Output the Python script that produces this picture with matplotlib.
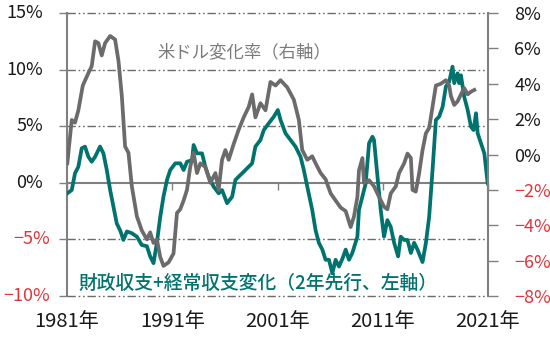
import matplotlib
matplotlib.use("Agg")
import matplotlib.pyplot as plt
from matplotlib.transforms import blended_transform_factory

plt.rcParams['font.family'] = ['Noto Sans CJK JP', 'DejaVu Sans']

# US dollar change rate (right axis, %)
usd_years = [1981.03, 1981.45, 1981.76, 1982.08, 1982.5, 1983.03, 1983.35, 1983.67, 1983.98,
             1984.3, 1984.62, 1985.1, 1985.57, 1985.89, 1986.21, 1986.52, 1986.84, 1987.16,
             1987.64, 1988.11, 1988.59, 1988.9, 1989.22, 1989.54, 1989.86, 1990.17, 1990.65,
             1991.12, 1991.45, 1991.76, 1992.08, 1992.4, 1992.71, 1993.03, 1993.35, 1993.67,
             1994.14, 1994.62, 1995.1, 1995.41, 1995.73, 1996.05, 1996.36, 1996.84, 1997.31,
             1997.79, 1998.27, 1998.59, 1998.9, 1999.38, 1999.86, 2000.33, 2000.81, 2001.29,
             2001.92, 2002.55, 2003.03, 2003.35, 2003.83, 2004.3, 2004.62, 2005.1, 2005.57,
             2006.05, 2006.52, 2007.0, 2007.48, 2007.95, 2008.27, 2008.59, 2008.74, 2009.07,
             2009.22, 2009.7, 2010.17, 2010.65, 2011.12, 2011.44, 2011.76, 2012.24, 2012.55,
             2013.03, 2013.35, 2013.67, 2013.83, 2014.14, 2014.46, 2014.78, 2015.1, 2015.41,
             2015.73, 2016.05, 2016.52, 2017.0, 2017.31, 2017.48, 2017.79, 2018.11, 2018.43,
             2018.74, 2019.07, 2019.38, 2019.7]
usd_change = [-0.5, 1.95, 1.8, 2.5, 3.9, 4.6, 5.0, 6.4, 6.3,
              5.6, 6.3, 6.7, 6.5, 5.3, 3.3, 0.45, 0.1, -1.8,
              -3.5, -4.3, -4.8, -4.4, -5.0, -4.8, -5.8, -6.3, -6.1,
              -5.6, -3.3, -3.1, -2.6, -2.0, -0.7, 0.1, -1.05, -0.5,
              -0.7, -1.6, -1.05, -2.0, -0.3, 0.25, -0.3, 0.6, 1.4,
              2.1, 2.7, 3.4, 2.1, 2.9, 2.5, 4.1, 3.9, 4.2,
              3.8, 3.1, 1.95, 0.25, -0.3, -0.1, -0.5, -1.05, -1.4,
              -2.2, -2.6, -3.0, -3.2, -4.1, -3.5, -2.4, -0.9, -0.2,
              -1.6, -1.45, -1.8, -2.4, -2.95, -3.1, -2.2, -1.8, -1.05,
              -0.5, 0.05, -0.2, -2.0, -2.1, -1.05, 0.25, 1.2, 1.5,
              2.7, 3.9, 4.0, 4.2, 3.9, 3.3, 2.8, 3.0, 3.4,
              3.75, 3.4, 3.55, 3.65]

# Fiscal balance + current account change (2 years ahead, left axis, %)
bal_years = [1981.03, 1981.45, 1981.76, 1982.08, 1982.4, 1982.71, 1983.03, 1983.35, 1983.67,
             1984.14, 1984.46, 1984.78, 1985.1, 1985.41, 1985.73, 1986.05, 1986.36, 1986.69,
             1987.16, 1987.64, 1988.11, 1988.59, 1988.9, 1989.22, 1989.54, 1989.86, 1990.17,
             1990.5, 1990.81, 1991.29, 1991.76, 1992.08, 1992.4, 1992.88, 1993.03, 1993.35,
             1993.83, 1994.14, 1994.46, 1994.93, 1995.41, 1995.73, 1996.21, 1996.69, 1997.0,
             1997.31, 1997.64, 1997.95, 1998.27, 1998.59, 1998.9, 1999.38, 1999.7, 2000.17,
             2000.65, 2001.03, 2001.29, 2001.76, 2002.24, 2002.71, 2003.19, 2003.5, 2003.83,
             2004.3, 2004.62, 2004.93, 2005.26, 2005.57, 2005.89, 2006.21, 2006.52, 2006.84,
             2007.17, 2007.48, 2007.79, 2008.11, 2008.59, 2008.74, 2009.07, 2009.38, 2009.7,
             2010.02, 2010.17, 2010.5, 2010.81, 2011.12, 2011.44, 2011.76, 2012.08, 2012.46,
             2012.71, 2013.03, 2013.35, 2013.67, 2013.98, 2014.3, 2014.78, 2015.1, 2015.41,
             2015.73, 2016.05, 2016.36, 2016.69, 2017.0, 2017.31, 2017.63, 2017.79, 2018.11,
             2018.26, 2018.43, 2018.74, 2019.07, 2019.38, 2019.63, 2019.86, 2020.02, 2020.33,
             2020.65, 2020.97, 2021.1]
bal_change = [-0.93, -0.64, 0.84, 1.42, 3.05, 3.19, 2.3, 1.86, 2.3,
              3.2, 2.6, 1.13, -0.64, -2.1, -3.6, -4.2, -5.05, -4.3,
              -4.45, -4.76, -5.5, -5.6, -6.5, -7.1, -5.3, -3.0, -1.2,
              0.25, 1.13, 1.72, 1.72, 1.13, 1.86, 2.0, 3.34, 2.6,
              2.6, 1.42, 0.54, -0.34, -0.93, -0.64, -1.8, -1.23, 0.25,
              0.54, 0.84, 1.13, 1.42, 1.72, 3.2, 3.78, 4.66, 5.26,
              5.84, 6.43, 5.55, 4.37, 3.78, 3.2, 2.3, 1.13, -0.34,
              -2.4, -4.2, -5.3, -5.9, -6.8, -6.8, -8.0, -6.8, -7.4,
              -6.7, -5.9, -6.8, -6.2, -4.76, -2.4, -1.2, -0.05, 3.5,
              4.07, 3.78, 0.54, -2.4, -4.76, -3.3, -3.9, -5.3, -6.5,
              -4.76, -5.05, -5.05, -6.2, -5.3, -5.9, -7.0, -5.3, -3.0,
              1.13, 5.55, 5.84, 6.72, 8.5, 8.93, 10.26, 8.8, 9.67,
              8.8, 9.5, 7.6, 6.43, 4.96, 4.66, 6.14, 4.37, 3.5,
              2.6, -0.05, -0.35]

left_ticks = [15, 10, 5, 0, -5, -10]
right_ticks = [8, 6, 4, 2, 0, -2, -4, -6, -8]
x_ticks = [1981, 1991, 2001, 2011, 2021]
x_labels = ["1981年", "1991年", "2001年", "2011年", "2021年"]

GRAY = "#6b6b6b"
TEAL = "#00736e"
RED = "#e0353a"
AXGRAY = "#808080"

fig = plt.figure(figsize=(5.5, 3.39), dpi=100)
ax = fig.add_axes([67/550, 1 - 296/339, (488 - 67)/550, (296 - 13)/339])
ax.set_xlim(1981, 2021)
ax.set_ylim(-10, 15)

# gridlines
for v in left_ticks:
    if v == 0:
        continue
    ax.axhline(v, color="#6a6a6a", lw=1.0, ls=(0, (6, 2, 1.2, 2, 1.2, 2)), zorder=1, clip_on=False)

for s in ["top", "right"]:
    ax.spines[s].set_visible(False)
ax.spines["left"].set_color(AXGRAY)
ax.spines["left"].set_linewidth(1.5)
ax.spines["bottom"].set_position(("data", 0))
ax.spines["bottom"].set_color(AXGRAY)
ax.spines["bottom"].set_linewidth(1.5)

ax.set_xticks(x_ticks)
ax.tick_params(axis="x", direction="out", length=5, width=1, color=AXGRAY, labelbottom=False)
ax.set_yticks(left_ticks)
ax.tick_params(axis="y", direction="out", length=6, width=1, color=AXGRAY, labelleft=False)

# left tick labels (positive labels carry a right padding like the source format)
trans_l = blended_transform_factory(fig.transFigure, ax.transData)
for v in left_ticks:
    xr = (43 if v >= 0 else 50) / 550
    ax.text(xr, v, f"{v}%".replace("-", "−"), transform=trans_l, ha="right", va="center",
            fontsize=13, color=(RED if v < 0 else "#1a1a1a"))

# x labels at the bottom
sec = ax.secondary_xaxis(0)
sec.set_xticks(x_ticks)
sec.set_xticklabels(x_labels, fontsize=14.5, color="#1a1a1a")
sec.tick_params(length=0, pad=11)
sec.spines["bottom"].set_visible(False)

ax.plot(bal_years, bal_change, color=TEAL, lw=2.7, solid_joinstyle="round", zorder=3)

ax2 = ax.twinx()
ax2.set_position(ax.get_position())
ax2.set_ylim(-8, 8)
ax2.set_yticks(right_ticks)
ax2.set_yticklabels([f"{v}%".replace("-", "−") for v in right_ticks], fontsize=13)
for lbl, v in zip(ax2.get_yticklabels(), right_ticks):
    lbl.set_color(RED if v < 0 else "#1a1a1a")
ax2.tick_params(axis="y", direction="out", length=7, width=1, color=AXGRAY, pad=12)
for s in ["top", "bottom", "left"]:
    ax2.spines[s].set_visible(False)
ax2.spines["right"].set_color(AXGRAY)
ax2.spines["right"].set_linewidth(1.5)
ax2.plot(usd_years, usd_change, color=GRAY, lw=2.7, solid_joinstyle="round", zorder=3)

fig.text(157/550, 1 - 52/339, "米ドル変化率（右軸）", fontsize=12.5, color="#7a7a7a", ha="left", va="center")
fig.text(78/550, 1 - 283/339, "財政収支+経常収支変化（2年先行、左軸）", fontsize=13.5, color=TEAL,
         ha="left", va="center", fontweight="medium")

fig.savefig("out.png", dpi=100)
